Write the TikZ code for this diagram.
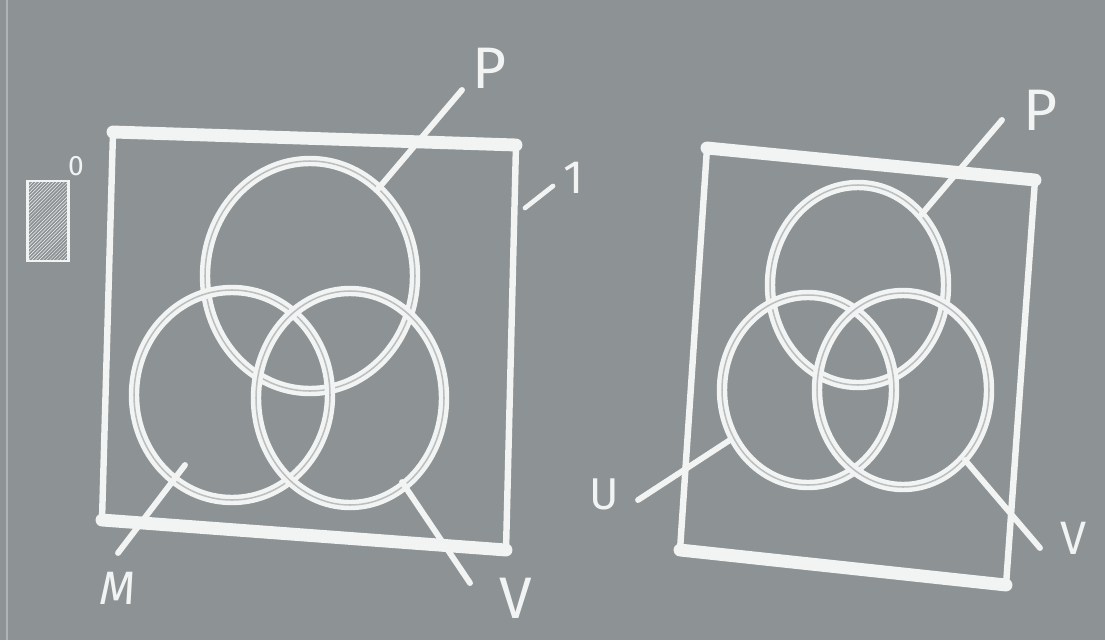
\documentclass[tikz,border=0pt]{standalone}
\usepackage{fontspec}
\setmainfont{Fira Sans}
\usetikzlibrary{shapes.geometric,patterns}
\definecolor{board}{RGB}{141,146,148}
\definecolor{chalk}{RGB}{242,244,244}
\begin{document}
\begin{tikzpicture}[x=0.03cm,y=-0.03cm,
  bar/.style={draw=chalk,line width=11pt,line cap=round},
  side/.style={draw=chalk,line width=5.5pt,line cap=round},
  ring/.style={ellipse,inner sep=0pt,outer sep=0pt,draw=chalk,double=board!60!white,double distance=1.3pt,line width=3.8pt},
  pointer/.style={draw=chalk,line width=5pt,line cap=round},
  lbl/.style={text=chalk,font=\fontsize{50}{50}\selectfont,inner sep=0pt}]
\useasboundingbox (0,0) rectangle (1105,640);
\fill[board] (0,0) rectangle (1105,640);
\draw[board!70!white,line width=2pt] (7,0) -- (7,640);
% small hatched square
\node[draw=chalk,line width=2.5pt,minimum width=1.25cm,minimum height=2.4cm,inner sep=0pt,pattern=north east lines,pattern color=chalk] (sq) at (48,221) {};
\node[text=chalk,font=\fontsize{24}{24}\selectfont,inner sep=0pt] (sup) at (76,166) {0};
% left box
\coordinate (a1) at (113,132);
\coordinate (a2) at (516,145);
\coordinate (a3) at (506,550);
\coordinate (a4) at (102,520);
\draw[bar] (a1) -- (a2);
\draw[bar] (a4) -- (a3);
\draw[side] (a1) -- (a4);
\draw[side] (a2) -- (a3);
% left circles
\node[ring,minimum width=6.3cm,minimum height=6.9cm] (P1) at (310,276) {};
\node[ring,minimum width=5.88cm,minimum height=6.3cm] (M1) at (232,395) {};
\node[ring,minimum width=5.64cm,minimum height=6.42cm] (V1) at (350,398) {};
% left labels
\node[lbl] (lP1) at (490,68) {P};
\node[lbl,font=\fontsize{40}{40}\selectfont\itshape] (lM1) at (118,588) {M};
\node[lbl] (lV1) at (516,598) {V};
\node[lbl,font=\fontsize{40}{40}\selectfont] (l11) at (574,178) {1};
\coordinate (pP1) at (462,90);
\coordinate (pM1s) at (185,465);
\coordinate (pM1) at (118,553);
\coordinate (pV1s) at (402,482);
\coordinate (pV1) at (470,583);
\coordinate (p11s) at (525,208);
\coordinate (p11) at (553,186);
\draw[pointer] (P1.52) -- (pP1);
\draw[pointer] (pM1s) -- (pM1);
\draw[pointer] (pV1s) -- (pV1);
\draw[pointer,line width=4pt] (p11s) -- (p11);
% right box
\coordinate (b1) at (707,148);
\coordinate (b2) at (1035,180);
\coordinate (b3) at (1006,585);
\coordinate (b4) at (680,550);
\draw[bar] (b1) -- (b2);
\draw[bar] (b4) -- (b3);
\draw[side] (b1) -- (b4);
\draw[side] (b2) -- (b3);
% right circles
\node[ring,minimum width=5.28cm,minimum height=6.0cm] (P2) at (858,285) {};
\node[ring,minimum width=5.16cm,minimum height=5.7cm] (U2) at (808,390) {};
\node[ring,minimum width=5.16cm,minimum height=5.82cm] (V2) at (903,390) {};
% right labels
\node[lbl] (lP2) at (1040,110) {P};
\node[lbl,font=\fontsize{38}{38}\selectfont] (lU2) at (604,494) {U};
\node[lbl,font=\fontsize{40}{40}\selectfont] (lV2) at (1074,538) {V};
\coordinate (pP2) at (1002,120);
\coordinate (pU2s) at (730,440);
\coordinate (pU2) at (638,500);
\coordinate (pV2s) at (965,460);
\coordinate (pV2) at (1040,548);
\draw[pointer] (P2.48) -- (pP2);
\draw[pointer] (pU2s) -- (pU2);
\draw[pointer] (pV2s) -- (pV2);
\end{tikzpicture}
\end{document}
